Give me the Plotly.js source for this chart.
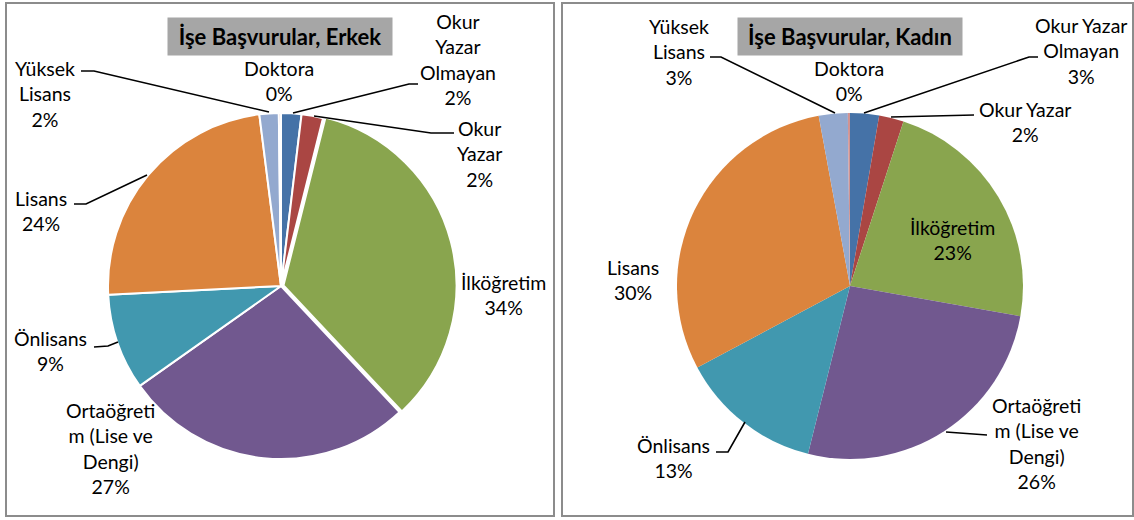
<!DOCTYPE html>
<html>
<head>
<meta charset="utf-8">
<script src="https://cdn.plot.ly/plotly-3.0.1.min.js"></script>
<style>html,body{margin:0;padding:0;background:#fff;}#chart{width:1134px;height:520px;}</style>
</head>
<body>
<div id="chart"></div>
<script>
// ---- data ----
var categories = ["Okur Yazar Olmayan", "Okur Yazar", "İlköğretim", "Ortaöğretim (Lise ve Dengi)", "Önlisans", "Lisans", "Yüksek Lisans", "Doktora"];
var erkekValues = [1.9, 2.0, 34.1, 27.2, 9.0, 23.8, 1.8, 0.2];
var kadinValues = [2.7, 2.3, 22.8, 26.1, 13.3, 29.9, 2.7, 0.2];
var titleErkek = "İşe Başvurular, Erkek";
var titleKadin = "İşe Başvurular, Kadın";
// how each category label is wrapped in each panel
var erkekLabelLines = [["Okur", "Yazar", "Olmayan"], ["Okur", "Yazar"], ["İlköğretim"], ["Ortaöğreti", "m (Lise ve", "Dengi)"], ["Önlisans"], ["Lisans"], ["Yüksek", "Lisans"], ["Doktora"]];
var kadinLabelLines = [["Okur Yazar", "Olmayan"], ["Okur Yazar"], ["İlköğretim"], ["Ortaöğreti", "m (Lise ve", "Dengi)"], ["Önlisans"], ["Lisans"], ["Yüksek", "Lisans"], ["Doktora"]];

// ---- style ----
var W = 1134, H = 520;
var colors = ["#4572A7", "#AA4643", "#89A54E", "#71588F", "#4198AF", "#DB843D", "#93A9CF", "#D19392"];
var FONT = "Lato, 'Open Sans', sans-serif";
function px(x) { return x / W; }
function py(y) { return 1 - y / H; }

// label block centres (pixels), per category index
var erkekLabelPos = [[458, 59], [479, 154], [503, 295], [110, 448], [50, 351], [41, 211], [45, 94], [279, 81]];
var kadinLabelPos = [[1081, 51], [1025, 122], [952, 240], [1036, 443], [673, 458], [633, 280], [679, 52], [849, 81]];

var leaderLines = [
  [[81, 71], [94, 71], [269, 112]],
  [[293, 113], [409, 84], [418, 84]],
  [[314, 116], [431, 133], [454, 133]],
  [[74, 204], [86, 204], [147, 175]],
  [[94, 347], [108, 346], [118, 342]],
  [[710, 57], [721, 57], [835, 113]],
  [[864, 113], [1029, 57], [1038, 57]],
  [[891, 117], [974, 115]],
  [[716, 452], [728, 452], [745, 422]],
  [[946, 432], [987, 435]]
];

function pctLabels(values) {
  var s = values.reduce(function (a, b) { return a + b; }, 0);
  return values.map(function (v) { return Math.round(v / s * 100) + "%"; });
}

var pieErkek = {
  type: "pie",
  labels: categories,
  values: erkekValues,
  sort: false,
  direction: "clockwise",
  rotation: 0,
  textinfo: "none",
  hoverinfo: "label+percent",
  pull: [0, 0, 0.015, 0, 0, 0, 0, 0],
  marker: { colors: colors, line: { color: "#ffffff", width: 2 } },
  domain: { x: [px(105.4), px(456.6)], y: [py(461.6), py(110.4)] },
  showlegend: false
};
var pieKadin = {
  type: "pie",
  labels: categories,
  values: kadinValues,
  sort: false,
  direction: "clockwise",
  rotation: 0,
  textinfo: "none",
  hoverinfo: "label+percent",
  marker: { colors: colors, line: { color: "#ffffff", width: 0 } },
  domain: { x: [px(677), px(1023)], y: [py(459), py(113)] },
  showlegend: false
};

var annotations = [];
function addLabels(values, lines, pos) {
  var pcts = pctLabels(values);
  for (var i = 0; i < values.length; i++) {
    annotations.push({
      xref: "paper", yref: "paper",
      x: px(pos[i][0]), y: py(pos[i][1]),
      xanchor: "center", yanchor: "middle",
      text: lines[i].concat([pcts[i]]).join("<br>"),
      showarrow: false,
      font: { family: FONT, size: 19.5, color: "#000" }
    });
  }
}
addLabels(erkekValues, erkekLabelLines, erkekLabelPos);
addLabels(kadinValues, kadinLabelLines, kadinLabelPos);

function addTitle(text, cx) {
  annotations.push({
    xref: "paper", yref: "paper",
    x: px(cx), y: py(36.5),
    xanchor: "center", yanchor: "middle",
    text: "<b>" + text + "</b>",
    showarrow: false,
    bgcolor: "#A6A6A6",
    width: 222, height: 35, borderpad: 1,
    font: { family: FONT, size: 22, color: "#000" }
  });
}
addTitle(titleErkek, 280);
addTitle(titleKadin, 850);

var shapes = [
  { type: "rect", xref: "paper", yref: "paper", x0: px(6), x1: px(554), y0: py(516), y1: py(3), line: { color: "#8C8C8C", width: 2 }, layer: "below" },
  { type: "rect", xref: "paper", yref: "paper", x0: px(562), x1: px(1133), y0: py(516), y1: py(3), line: { color: "#8C8C8C", width: 2 }, layer: "below" }
];
leaderLines.forEach(function (pts) {
  var d = pts.map(function (p, k) { return (k ? "L" : "M") + px(p[0]) + "," + py(p[1]); }).join(" ");
  shapes.push({ type: "path", xref: "paper", yref: "paper", path: d, line: { color: "#000", width: 1.6 } });
});

var layout = {
  width: W, height: H,
  margin: { l: 0, r: 0, t: 0, b: 0 },
  paper_bgcolor: "#fff",
  plot_bgcolor: "#fff",
  font: { family: FONT },
  annotations: annotations,
  shapes: shapes
};

Plotly.newPlot("chart", [pieErkek, pieKadin], layout, { displayModeBar: false, staticPlot: true });
</script>
</body>
</html>
